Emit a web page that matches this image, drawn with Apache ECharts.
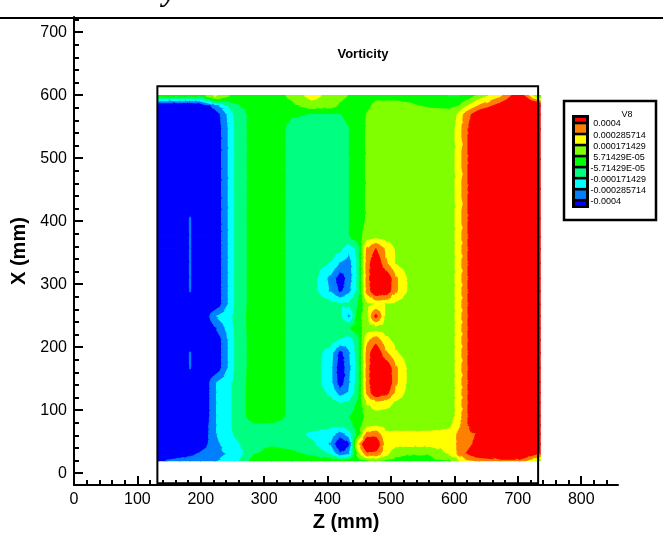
<!DOCTYPE html>
<html><head><meta charset="utf-8">
<script src="https://cdn.jsdelivr.net/npm/echarts@6/dist/echarts.min.js"></script>
<style>html,body{margin:0;padding:0;background:#fff}#c{width:663px;height:537px}</style>
</head><body><div id="c"></div>
<script>
// ---- mesh (mm) ----
const Z_NODES = [133,167,183,199,222,254,285,312,344,375,404,420,434,448,462,476,492,508,530,562,593,606,618,640,672,703,735];
const X_NODES = [599,583,569,546,498,451,404,375,356,333,309,289,268,249,230,211,191,167,144,128,112,91,76,62,46,30,20];
const VALUE_UNIT = 1e-4;
// V8 values (x 1e-4), one row per X_NODES entry, one column per Z_NODES entry
const V8_ROWS = [
 [0,0,-0.2,-0.3,1.9,0,0,0,0.8,2.2,1.2,0.8,0.5,0,0,0.3,0.3,0.3,0.2,0,-0.7,-0.7,-0.5,1.0,2.5,5,0],
 [-6,-6,-6,-5.5,-3.5,-0.8,0,0,0.3,1.0,0.9,0.4,0.1,0,0.3,0.8,0.8,0.8,0.7,0.4,0.2,0.5,1.5,3.0,4.5,6,5.5],
 [-6,-6,-6,-6,-5,-1.5,0,0,-0.5,-0.6,-0.6,-0.6,-0.3,0.1,0.6,1.1,1.1,1.1,1.1,1.0,1.1,1.8,3.3,5.0,6,6,6],
 [-6,-6,-6,-6,-5.2,-1.7,0.1,0,-0.9,-1,-1,-0.9,-0.6,0.1,0.65,1.1,1.1,1.1,1.1,1.1,1.2,2.0,3.7,5.5,6,6,6],
 [-6,-6,-6,-6,-5.2,-1.7,0.1,0,-0.9,-1,-1,-0.9,-0.6,0.1,0.65,1.1,1.1,1.1,1.1,1.1,1.2,2.0,3.7,5.5,6,6,6],
 [-6,-6,-6,-6,-5.2,-1.7,0.1,0,-0.9,-1,-1,-0.9,-0.6,0.1,0.65,1.1,1.1,1.1,1.1,1.1,1.2,2.0,3.7,5.5,6,6,6],
 [-6,-6,-3.9,-6,-5.2,-1.7,0.1,0,-0.9,-1,-1,-0.9,-0.6,0.1,0.65,1.1,1.1,1.1,1.1,1.1,1.2,2.0,3.7,5.5,6,6,6],
 [-6,-6,-3.9,-6,-5.2,-1.7,0.1,0,-0.9,-1,-1,-0.9,-0.6,0.1,1.0,1.3,1.1,1.1,1.1,1.1,1.2,2.0,3.7,5.5,6,6,6],
 [-6,-6,-3.9,-6,-5.2,-1.7,0.1,0,-0.9,-1,-1.0,-1.5,-2.6,-1.3,3.0,4.0,2.6,1.5,1.1,1.1,1.2,2.0,3.7,5.5,6,6,6],
 [-6,-6,-3.9,-6,-5.2,-1.7,0.1,0,-0.9,-1.2,-1.8,-3.0,-3.4,-1.5,3.3,5.0,3.0,1.6,1.1,1.1,1.2,2.0,3.7,5.5,6,6,6],
 [-6,-6,-3.9,-6,-5.2,-1.7,0.1,0,-0.9,-1.2,-3.2,-4.8,-3.5,-1.5,3.3,5.5,5.0,3.0,1.3,1.1,1.2,2.0,3.7,5.5,6,6,6],
 [-6,-6,-3.9,-6,-5.2,-1.7,0.1,0,-0.9,-1.2,-3.0,-4.3,-3.2,-1.4,3.2,5.0,4.8,3.0,1.3,1.1,1.2,2.0,3.7,5.5,6,6,6],
 [-6,-6,-6,-6,-5.2,-1.7,0.1,0,-0.9,-1.0,-1.3,-1.6,-1.5,-0.6,1.3,1.8,1.7,1.3,1.1,1.1,1.2,2.0,3.7,5.5,6,6,6],
 [-6,-6,-6,-6,-3.0,-1.5,0.1,0,-0.9,-1,-1,-1.7,-3.2,-0.1,1.5,4.3,1.5,1.1,1.1,1.1,1.2,2.0,3.7,5.5,6,6,6],
 [-6,-6,-6,-6,-4.2,-1.6,0.1,0,-0.9,-1,-1,-0.9,-0.6,0.1,1.0,1.1,1.1,1.1,1.1,1.1,1.2,2.0,3.7,5.5,6,6,6],
 [-6,-6,-6,-6,-5.2,-1.7,0.1,0,-0.9,-1.0,-1.2,-1.9,-2.4,-1.1,2.5,3.5,2.0,1.3,1.1,1.1,1.2,2.0,3.7,5.5,6,6,6],
 [-6,-6,-3.9,-6,-5.2,-1.7,0.1,0,-0.9,-1.0,-2.3,-4.5,-3.0,-1.2,3.2,5.0,3.0,1.8,1.1,1.1,1.2,2.0,3.7,5.5,6,6,6],
 [-6,-6,-3.9,-6,-5.2,-1.7,0.1,0,-0.9,-1.0,-2.5,-5.0,-3.2,-1.3,3.2,5.5,5.0,3.0,1.2,1.1,1.2,2.0,3.7,5.5,6,6,6],
 [-6,-6,-6,-6,-3.0,-1.5,0.1,0,-0.9,-1.0,-2.5,-4.8,-3.0,-1.2,3.2,5.5,5.2,3.0,1.2,1.1,1.2,2.0,3.7,5.5,6,6,6],
 [-6,-6,-6,-6,-3.0,-1.5,0.1,0,-0.9,-1.0,-2.0,-3.5,-2.8,-1.0,3.0,5.0,4.5,2.5,1.1,1.1,1.2,2.0,3.7,5.5,6,6,6],
 [-6,-6,-6,-6,-3.0,-1.5,0.1,0,-0.9,-1.0,-1.3,-1.8,-1.6,-0.4,1.8,2.5,2.2,1.5,1.1,1.1,1.2,2.0,3.7,5.5,6,6,6],
 [-6,-6,-6,-6,-3.0,-1.5,0.1,0,-0.9,-1,-1,-0.9,-0.6,0,0.8,1.1,1.1,1.1,1.1,1.1,1.2,2.0,3.7,5.5,6,6,6],
 [-6,-6,-6,-5.5,-3.0,-1.5,-0.8,-0.8,-1.0,-1.2,-1.5,-1.5,-1.0,0,1.2,1.5,1.3,1.3,1.3,1.3,1.5,2.5,3.7,5.5,6,6,6],
 [-6,-6,-6,-5.5,-3.0,-1.6,-0.8,-0.7,-1.2,-2.0,-2.2,-3.5,-2.3,-0.3,3.2,3.5,1.9,1.9,1.9,1.9,2.0,3.0,3.5,4.2,6,6,6],
 [-6,-6,-5.6,-5,-3.2,-2.0,-0.9,-0.8,-1.1,-1.5,-3.0,-5.5,-4.3,2.5,5.5,5.0,2.2,2.0,2.0,2.0,2.3,3.0,3.5,4.5,6,6,5],
 [-6,-5,-4.4,-3.8,-3.2,-2.6,-0.6,0,-0.3,-0.8,-1.8,-3.8,-3.0,1.0,3.5,3.5,2.0,0.8,0.6,0.6,1.8,3.0,4.0,5,5.5,5.5,4],
 [-4.3,-3.5,-3.4,-3.3,-3.0,-2.2,0,0,0,0,0,-0.3,-0.2,0,0.3,0.5,0.3,0.2,0.2,0.3,0.5,1.5,2.5,3.0,3.5,3.6,1.0]
];
const LEVELS = [-0.0004,-0.000285714,-0.000171429,-5.71429e-5,5.71429e-5,0.000171429,0.000285714,0.0004];
const LEVEL_LABELS = ['0.0004','0.000285714','0.000171429','5.71429E-05','-5.71429E-05','-0.000171429','-0.000285714','-0.0004'];
const BAND_COLORS = ['#0000ff','#0080ff','#00ffff','#00ff80','#00ff00','#80ff00','#ffff00','#ff8000','#ff0000'];
const LEGEND_TITLE = 'V8';
const PLOT_TITLE = 'Vorticity';
const X_LABELS = [0,100,200,300,400,500,600,700,800];
const Y_LABELS = [0,100,200,300,400,500,600,700];
const MINOR_STEP = 20;
const FRAME_Z = [131.5, 732];
const FRAME_X = [-16, 614];

const xMinor = [], yMinor = [];
for (let v = 0; v <= 850; v += MINOR_STEP) xMinor.push(v);
for (let v = 0; v <= 720; v += MINOR_STEP) yMinor.push(v);

const cells = [];
for (let j = 0; j < X_NODES.length - 1; j++)
  for (let i = 0; i < Z_NODES.length - 1; i++)
    cells.push([(Z_NODES[i] + Z_NODES[i+1]) / 2, (X_NODES[j] + X_NODES[j+1]) / 2, i, j]);

function clip(poly, t, above) {
  const out = [];
  for (let k = 0; k < poly.length; k++) {
    const a = poly[k], b = poly[(k + 1) % poly.length];
    const ina = above ? a[2] >= t : a[2] <= t;
    const inb = above ? b[2] >= t : b[2] <= t;
    if (ina) out.push(a);
    if (ina !== inb) {
      const f = (t - a[2]) / (b[2] - a[2]);
      out.push([a[0] + f * (b[0] - a[0]), a[1] + f * (b[1] - a[1]), t]);
    }
  }
  return out;
}

function renderCell(params, api) {
  const i = api.value(2), j = api.value(3);
  const corner = (ii, jj) => { const p = api.coord([Z_NODES[ii], X_NODES[jj]]); return [p[0], p[1], V8_ROWS[jj][ii] * VALUE_UNIT]; };
  const a = corner(i, j), b = corner(i + 1, j), c = corner(i + 1, j + 1), d = corner(i, j + 1);
  const m = [(a[0]+b[0]+c[0]+d[0])/4, (a[1]+b[1]+c[1]+d[1])/4, (a[2]+b[2]+c[2]+d[2])/4];
  const tris = [[a,b,m],[b,c,m],[c,d,m],[d,a,m]];
  const children = [];
  for (const t of tris) {
    const vmin = Math.min(t[0][2], t[1][2], t[2][2]);
    const vmax = Math.max(t[0][2], t[1][2], t[2][2]);
    for (let k = 0; k < BAND_COLORS.length; k++) {
      const lo = k === 0 ? -Infinity : LEVELS[k-1];
      const hi = k === LEVELS.length ? Infinity : LEVELS[k];
      if (vmax < lo || vmin > hi) continue;
      let poly = t;
      if (lo > -Infinity) poly = clip(poly, lo, true);
      if (poly.length >= 3 && hi < Infinity) poly = clip(poly, hi, false);
      if (poly.length < 3) continue;
      children.push({type:'polygon', silent:true, shape:{points: poly.map(p => [p[0], p[1]])},
        style:{fill: BAND_COLORS[k], stroke: BAND_COLORS[k], lineWidth: 1.4, lineJoin:'round'}});
    }
  }
  return {type:'group', children};
}

const FONT = '"Liberation Sans", Arial, Helvetica, sans-serif';
const axisCommon = {splitLine:{show:false}};
const chart = echarts.init(document.getElementById('c'));
chart.setOption({
  animation:false,
  backgroundColor:'#fff',
  grid:{left:74, right:45, top:17, bottom:49, containLabel:false},
  xAxis:[
    Object.assign({type:'value', min:0, max:858, position:'bottom',
      axisLine:{show:true, onZero:false, lineStyle:{color:'#000', width:2}},
      axisTick:{show:true, inside:true, length:9, customValues:X_LABELS, lineStyle:{color:'#000', width:2}},
      axisLabel:{show:true, customValues:X_LABELS, color:'#000', fontSize:16, fontFamily:FONT, margin:6},
      name:'Z (mm)', nameLocation:'middle', nameGap:22,
      nameTextStyle:{color:'#000', fontSize:20, fontWeight:'bold', fontFamily:FONT}}, axisCommon),
    Object.assign({type:'value', min:0, max:858, position:'bottom',
      axisLine:{show:false, onZero:false},
      axisTick:{show:true, inside:true, length:5, customValues:xMinor, lineStyle:{color:'#000', width:2}},
      axisLabel:{show:false}}, axisCommon)
  ],
  yAxis:[
    Object.assign({type:'value', min:-19, max:724, position:'left',
      axisLine:{show:true, onZero:false, lineStyle:{color:'#000', width:2}},
      axisTick:{show:true, inside:true, length:9, customValues:Y_LABELS, lineStyle:{color:'#000', width:2}},
      axisLabel:{show:true, customValues:Y_LABELS, color:'#000', fontSize:16, fontFamily:FONT, margin:7},
      name:'X (mm)', nameLocation:'middle', nameGap:42, nameRotate:90,
      nameTextStyle:{color:'#000', fontSize:20, fontWeight:'bold', fontFamily:FONT}}, axisCommon),
    Object.assign({type:'value', min:-19, max:724, position:'left',
      axisLine:{show:false, onZero:false},
      axisTick:{show:true, inside:true, length:5, customValues:yMinor, lineStyle:{color:'#000', width:2}},
      axisLabel:{show:false}}, axisCommon)
  ],
  series:[{
    type:'custom', coordinateSystem:'cartesian2d', xAxisIndex:0, yAxisIndex:0,
    data:cells, encode:{x:0, y:1}, renderItem:renderCell, silent:true, clip:false, z:1
  }]
});

// frame, title, legend and page decorations
const p0 = chart.convertToPixel({gridIndex:0}, [FRAME_Z[0], FRAME_X[1]]);
const p1 = chart.convertToPixel({gridIndex:0}, [FRAME_Z[1], FRAME_X[0]]);
const g = [];
g.push({type:'line', z:100, shape:{x1:0, y1:18, x2:663, y2:18}, style:{stroke:'#000', lineWidth:2}});
g.push({type:'text', z:100, left:163, top:-22, style:{text:'y', font:'italic bold 30px "Liberation Serif", serif', fill:'#000'}});
g.push({type:'rect', z:100, shape:{x:p0[0], y:p0[1], width:p1[0]-p0[0], height:p1[1]-p0[1]}, style:{fill:'none', stroke:'#000', lineWidth:2}});
g.push({type:'text', z:100, x:363, y:54, style:{text:PLOT_TITLE, font:'bold 13px ' + FONT, fill:'#000', align:'center', verticalAlign:'middle'}});
// legend
g.push({type:'rect', z:100, shape:{x:564, y:101, width:92, height:119}, style:{fill:'#fff', stroke:'#000', lineWidth:2.5}});
g.push({type:'text', z:101, x:627, y:115, style:{text:LEGEND_TITLE, font:'9px ' + FONT, fill:'#000', align:'center', verticalAlign:'middle'}});
const B0 = 123, BS = 11.03;
g.push({type:'rect', z:101, shape:{x:572, y:115, width:17, height:93}, style:{fill:'#000'}});
const nb = BAND_COLORS.length;
for (let k = 0; k < nb; k++) {
  const colorIdx = nb - 1 - k; // red at top
  const top = k === 0 ? 116.5 : B0 + BS * (k - 1);
  const bot = k === nb - 1 ? 207 : B0 + BS * k;
  g.push({type:'rect', z:102, shape:{x:575, y:top + 1.3, width:11, height:Math.max(1, bot - top - 2.6)}, style:{fill:BAND_COLORS[colorIdx]}});
}
LEVEL_LABELS.forEach((t, k) => {
  g.push({type:'text', z:102, x: t.charAt(0) === '-' ? 590.5 : 593.3, y: B0 + BS * k + 1,
    style:{text:t, font:'9px ' + FONT, fill:'#000', align:'left', verticalAlign:'middle'}});
});
chart.setOption({graphic:{elements:g}});
</script></body></html>
